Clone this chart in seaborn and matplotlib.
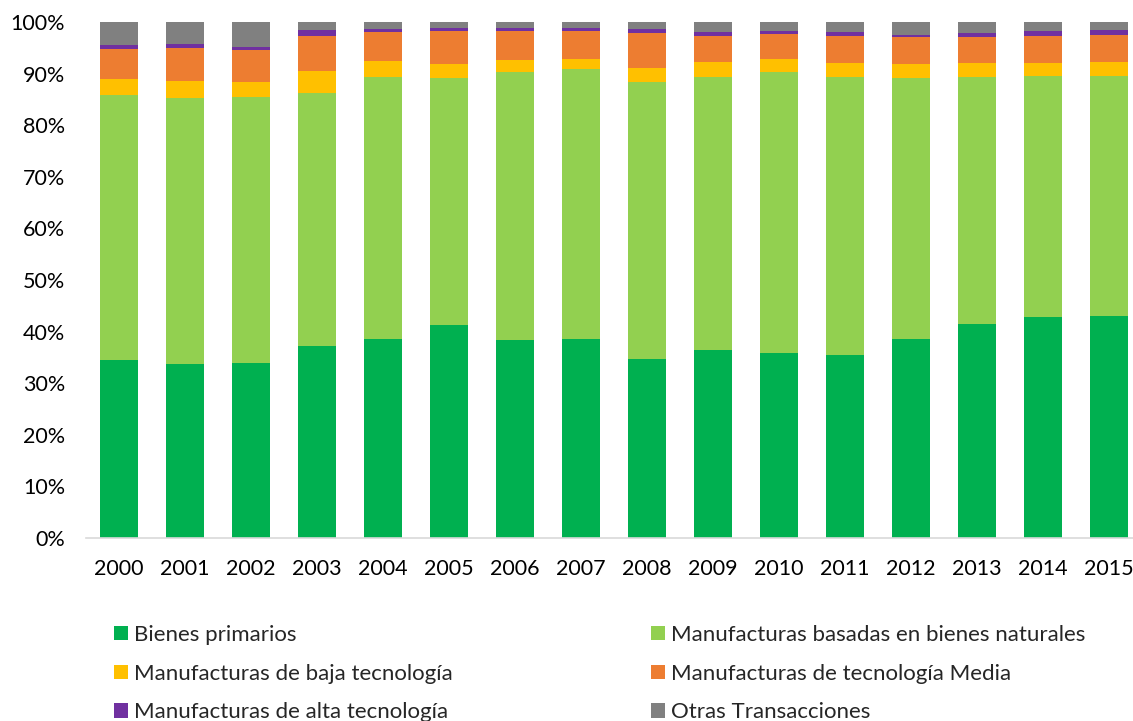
import numpy as np
import pandas as pd
import matplotlib
matplotlib.use("Agg")
import matplotlib.pyplot as plt
import seaborn as sns
from matplotlib.patches import Patch

years = [str(y) for y in range(2000, 2016)]

bienes_primarios = [34.4, 33.7, 33.9, 37.3, 38.5, 41.3, 38.4, 38.6, 34.7, 36.5, 35.9, 35.5, 38.6, 41.4, 42.9, 43.1]
manuf_naturales = [51.5, 51.6, 51.6, 48.9, 50.9, 47.9, 52.0, 52.2, 53.7, 52.9, 54.5, 53.9, 50.5, 48.0, 46.7, 46.5]
manuf_baja = [3.05, 3.3, 2.9, 4.3, 3.0, 2.7, 2.2, 2.1, 2.7, 2.8, 2.4, 2.7, 2.7, 2.7, 2.5, 2.7]
manuf_media = [5.85, 6.4, 6.2, 6.8, 5.7, 6.4, 5.7, 5.4, 6.8, 5.0, 4.9, 5.2, 5.2, 5.0, 5.2, 5.2]
manuf_alta = [0.7, 0.7, 0.6, 1.1, 0.6, 0.5, 0.5, 0.5, 0.7, 0.9, 0.6, 0.7, 0.5, 0.8, 1.0, 1.0]
otras = [4.5, 4.3, 4.8, 1.6, 1.3, 1.2, 1.2, 1.2, 1.4, 1.9, 1.7, 2.0, 2.5, 2.1, 1.7, 1.5]

series_names = [
    "Bienes primarios",
    "Manufacturas basadas en bienes naturales",
    "Manufacturas de baja tecnología",
    "Manufacturas de tecnología Media",
    "Manufacturas de alta tecnología",
    "Otras Transacciones",
]
colors = ["#00B050", "#92D050", "#FFC000", "#ED7D31", "#7030A0", "#808080"]

df = pd.DataFrame(
    np.array([bienes_primarios, manuf_naturales, manuf_baja, manuf_media, manuf_alta, otras]).T,
    columns=series_names,
)
df["year"] = years
# normalise to 100 %
vals = df[series_names]
df[series_names] = vals.div(vals.sum(axis=1), axis=0) * 100
cum = df[series_names].cumsum(axis=1)

sns.set_theme(style="white")
plt.rcParams["font.family"] = ["Lato", "DejaVu Sans"]

fig = plt.figure(figsize=(11.33, 7.21), dpi=100)
ax = fig.add_axes([86 / 1133, (721 - 538) / 721, (1133 - 86) / 1133, 516 / 721])

# draw cumulative layers from top to bottom so they stack
for name, color in reversed(list(zip(series_names, colors))):
    sns.barplot(x=df["year"], y=cum[name], color=color, width=0.57,
                saturation=1, linewidth=0, ax=ax)

ax.set_xlim(-0.5, 15.36)
ax.set_ylim(0, 100)
ax.set_yticks(range(0, 101, 10))
ax.set_yticklabels([f"{v}%" for v in range(0, 101, 10)])
ax.set_xlabel("")
ax.set_ylabel("")
ax.tick_params(axis="both", length=0, labelsize=15.5, colors="#000000")
ax.tick_params(axis="y", pad=15)
ax.tick_params(axis="x", pad=15)
for s in ["top", "right", "left"]:
    ax.spines[s].set_visible(False)
ax.spines["bottom"].set_color("#D9D9D9")
ax.spines["bottom"].set_linewidth(1.2)
ax.grid(False)

handles = [Patch(facecolor=c, edgecolor="none") for c in colors]
order = [0, 2, 4, 1, 3, 5]
fig.legend([handles[i] for i in order], [series_names[i] for i in order],
           loc="upper left", bbox_to_anchor=(114 / 1133, 1 - 625 / 721),
           ncol=2, frameon=False, fontsize=16,
           handlelength=0.63, handleheight=0.63, handletextpad=0.28,
           labelspacing=0.84, columnspacing=8.92, borderaxespad=0, borderpad=0)

fig.savefig("out.png", dpi=100)
